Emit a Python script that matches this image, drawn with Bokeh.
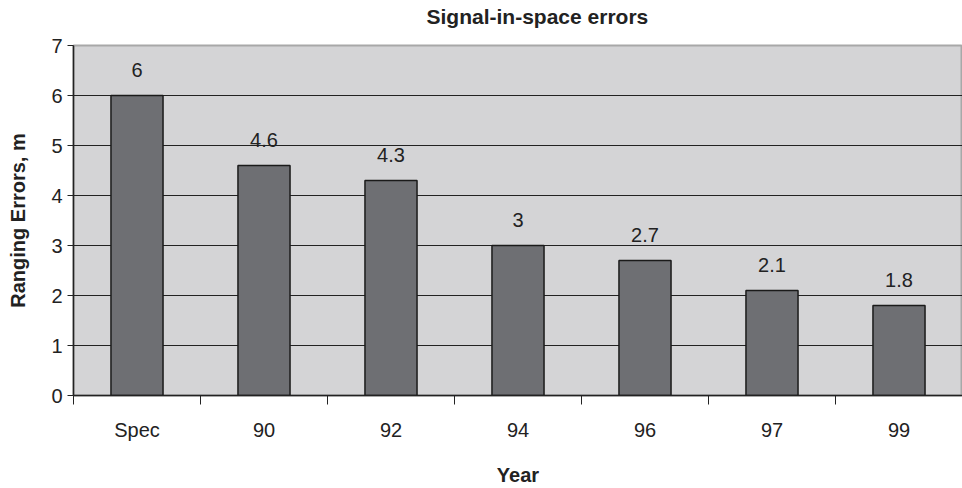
from bokeh.plotting import figure
from bokeh.models import ColumnDataSource, FixedTicker, Range1d, Title
from bokeh.core.properties import value
from bokeh.embed import file_html
from bokeh.resources import INLINE

categories = ["Spec", "90", "92", "94", "96", "97", "99"]
errors = [6, 4.6, 4.3, 3, 2.7, 2.1, 1.8]
labels = ["6", "4.6", "4.3", "3", "2.7", "2.1", "1.8"]
title_text = "Signal-in-space errors"

xs = [i + 0.5 for i in range(len(categories))]
src = ColumnDataSource(dict(x=xs, top=errors, lab=labels))

FONT = "Liberation Sans"
YMAX = 7

p = figure(width=962, height=488, output_backend="svg", toolbar_location=None,
           x_range=Range1d(0, len(categories)), y_range=Range1d(0, YMAX),
           min_border_left=73, min_border_right=0, min_border_top=45, min_border_bottom=92)
p.background_fill_color = "#d4d4d6"
p.border_fill_color = "white"
p.outline_line_color = "#a8a8a8"
p.outline_line_width = 2

# spacer between frame and title, then the title itself
spacer = Title(text=" ", text_font_size="1px", standoff=15)
p.add_layout(spacer, "above")
t = Title(text=title_text, align="left", offset=353, standoff=0, vertical_align="bottom",
          text_font=FONT, text_font_size="21px", text_font_style="bold", text_color="#222222")
p.add_layout(t, "above")

p.vbar(x="x", top="top", width=0.41, bottom=0, source=src,
       fill_color="#6e6f73", line_color="#1a1a1a", line_width=1.5)

p.text(x="x", y="top", text="lab", source=src, y_offset=-26,
       text_align="center", text_baseline="middle",
       text_font=value(FONT), text_font_size="20px", text_color="#222222")

# x axis
p.xaxis.ticker = FixedTicker(ticks=xs, minor_ticks=list(range(len(categories) + 1)))
p.xaxis.major_label_overrides = {x: c for x, c in zip(xs, categories)}
p.xaxis.major_tick_line_color = None
p.xaxis.major_tick_out = 0
p.xaxis.major_tick_in = 0
p.xaxis.minor_tick_line_color = "#222222"
p.xaxis.minor_tick_out = 9
p.xaxis.minor_tick_in = 0
p.xaxis.major_label_standoff = 14
p.xaxis.axis_label = "Year"
p.xaxis.axis_label_standoff = 20
p.xaxis.axis_line_color = "#222222"
p.xaxis.axis_line_width = 1.5

# y axis
p.yaxis.ticker = FixedTicker(ticks=list(range(0, YMAX + 1)))
p.yaxis.minor_tick_line_color = None
p.yaxis.major_tick_out = 6
p.yaxis.major_tick_in = 0
p.yaxis.major_tick_line_color = "#222222"
p.yaxis.major_label_standoff = 5
p.yaxis.axis_label = "Ranging Errors, m"
p.yaxis.axis_label_standoff = 19
p.yaxis.axis_line_color = "#222222"
p.yaxis.axis_line_width = 1.5

for ax in (p.xaxis, p.yaxis):
    ax.major_label_text_font = FONT
    ax.major_label_text_font_size = "20px"
    ax.major_label_text_color = "#222222"
    ax.axis_label_text_font = FONT
    ax.axis_label_text_font_size = "20px"
    ax.axis_label_text_font_style = "bold"
    ax.axis_label_text_color = "#222222"

p.xgrid.grid_line_color = None
p.ygrid.ticker = FixedTicker(ticks=list(range(1, YMAX)))
p.ygrid.grid_line_color = "#222222"
p.ygrid.grid_line_width = 1.2

open("out.html", "w").write(file_html(p, INLINE))
